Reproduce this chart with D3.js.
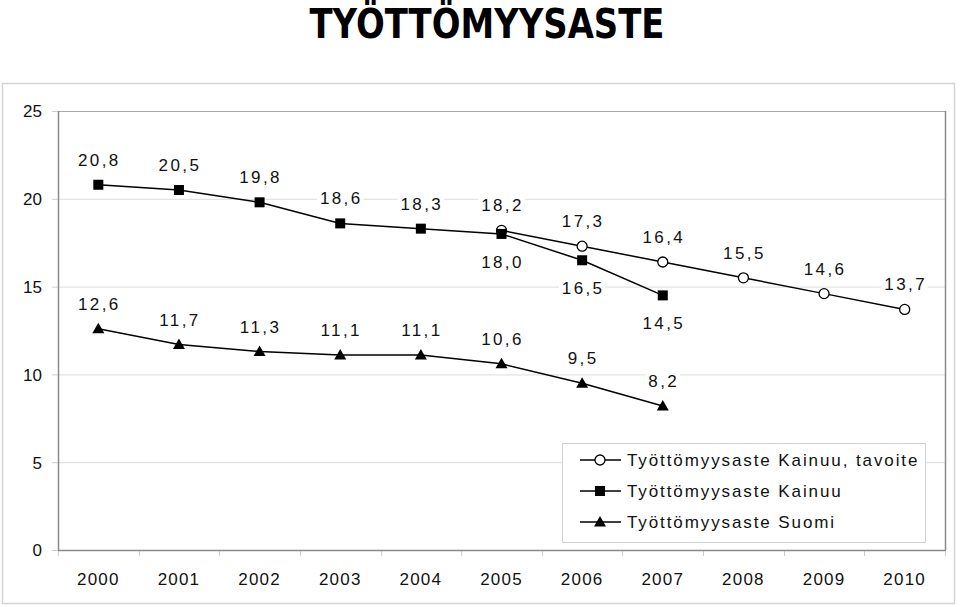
<!DOCTYPE html>
<html><head><meta charset="utf-8">
<script src="https://cdn.jsdelivr.net/npm/d3@7"></script>
<style>
html,body{margin:0;padding:0;background:#fff;}
svg{display:block;font-family:"Liberation Sans",Arial,sans-serif;}
</style></head>
<body>
<svg id="chart" width="960" height="607"></svg>
<script>
const years = ["2000","2001","2002","2003","2004","2005","2006","2007","2008","2009","2010"];
const tavoite = [null,null,null,null,null,18.2,17.3,16.4,15.5,14.6,13.7];
const kainuu = [20.8,20.5,19.8,18.6,18.3,18.0,16.5,14.5,null,null,null];
const suomi = [12.6,11.7,11.3,11.1,11.1,10.6,9.5,8.2,null,null,null];
const yTicks = [0,5,10,15,20,25];
const seriesNames = ["Työttömyysaste Kainuu, tavoite","Työttömyysaste Kainuu","Työttömyysaste Suomi"];
// label placement: above (-1) or below (+1)
const kainuuLabelPos = [-1,-1,-1,-1,-1,1,1,1,1,1,1];

const svg = d3.select("#chart");
const plot = {l:58, t:111, r:945, b:550};

// outer frame
svg.append("rect").attr("x",2.5).attr("y",83.5).attr("width",952).attr("height",520)
  .attr("fill","none").attr("stroke","#d4d4d4").attr("stroke-width",1.5);

// title
svg.append("text").attr("x",487).attr("y",38).attr("text-anchor","middle")
  .attr("font-family","'DejaVu Sans',sans-serif").attr("font-weight","bold").attr("font-size",40)
  .attr("textLength",355).attr("lengthAdjust","spacingAndGlyphs")
  .text("TYÖTTÖMYYSASTE");

const x = d3.scaleBand().domain(years).range([plot.l, plot.r]);
const y = d3.scaleLinear().domain([0,25]).range([plot.b, plot.t]);

// gridlines
svg.append("g").selectAll("line").data(yTicks.filter(d=>d>0 && d<25)).join("line")
  .attr("x1",plot.l).attr("x2",plot.r).attr("y1",d=>y(d)+0.5).attr("y2",d=>y(d)+0.5)
  .attr("stroke","#dcdcdc").attr("stroke-width",1);

// y axis
const yAxis = svg.append("g").attr("transform",`translate(${plot.l},0)`)
  .call(d3.axisLeft(y).tickValues(yTicks).tickSize(6).tickPadding(10).tickFormat(d3.format("d")));
yAxis.select(".domain").remove();
yAxis.selectAll("line").attr("stroke","#cfcfcf");
yAxis.selectAll("text").attr("font-size",17).attr("fill","#111").attr("dy","0.35em");

// x axis
const xAxis = svg.append("g").attr("transform",`translate(0,${plot.b})`)
  .call(d3.axisBottom(x).tickSize(0).tickPadding(23));
xAxis.select(".domain").remove();
xAxis.selectAll("text").attr("font-size",17).attr("fill","#111").attr("letter-spacing","1.2px");
// x tick marks at band boundaries
const bounds = years.map(d=>x(d)).concat([plot.r]);
svg.append("g").selectAll("line").data(bounds).join("line")
  .attr("x1",d=>Math.round(d)+0.5).attr("x2",d=>Math.round(d)+0.5)
  .attr("y1",plot.b).attr("y2",plot.b+6).attr("stroke","#cfcfcf");

// plot frame
svg.append("line").attr("x1",plot.l).attr("x2",plot.r).attr("y1",plot.t+0.5).attr("y2",plot.t+0.5).attr("stroke","#a8a8a8").attr("stroke-width",1.2);
svg.append("line").attr("x1",plot.l+0.5).attr("x2",plot.l+0.5).attr("y1",plot.t).attr("y2",plot.b).attr("stroke","#8a8a8a").attr("stroke-width",1.5);
svg.append("line").attr("x1",plot.r+0.5).attr("x2",plot.r+0.5).attr("y1",plot.t).attr("y2",plot.b).attr("stroke","#8a8a8a").attr("stroke-width",1.5);
svg.append("line").attr("x1",plot.l).attr("x2",plot.r+1).attr("y1",plot.b+0.5).attr("y2",plot.b+0.5).attr("stroke","#8a8a8a").attr("stroke-width",1.5);

const cx = d => x(d) + x.bandwidth()/2;
const fmt = v => d3.format(".1f")(v).replace(".",",");

function lineData(vals){ return years.map((yr,i)=>({yr, v:vals[i], i})).filter(d=>d.v!==null); }

const line = d3.line().x(d=>cx(d.yr)).y(d=>y(d.v));

const series = [
  {vals:tavoite, shape:"circle", pos: ()=>-1},
  {vals:kainuu, shape:"square", pos: i=>kainuuLabelPos[i]},
  {vals:suomi, shape:"triangle", pos: ()=>-1}
];

const gLines = svg.append("g");
const gMarks = svg.append("g");
const gLabels = svg.append("g");

function drawMarker(g, shape, px, py){
  if(shape==="circle"){
    g.append("circle").attr("cx",px).attr("cy",py).attr("r",5).attr("fill","#fff").attr("stroke","#000").attr("stroke-width",1.3);
  } else if(shape==="square"){
    g.append("rect").attr("x",px-5).attr("y",py-5).attr("width",10).attr("height",10).attr("fill","#000");
  } else {
    g.append("path").attr("d",`M${px},${py-6}L${px+6},${py+4.5}L${px-6},${py+4.5}Z`).attr("fill","#000");
  }
}

series.slice().reverse().forEach(s=>{
  const data = lineData(s.vals);
  gLines.append("path").datum(data).attr("d",line).attr("fill","none").attr("stroke","#000").attr("stroke-width",1.5);
});
series.forEach(s=>{
  const data = lineData(s.vals);
  data.forEach(d=>{
    drawMarker(gMarks, s.shape, cx(d.yr), y(d.v));
    const p = s.pos(d.i);
    const ty = p<0 ? y(d.v)-19 : y(d.v)+34;
    const t = gLabels.append("text").attr("x",cx(d.yr)+1).attr("y",ty).attr("text-anchor","middle")
      .attr("font-size",17).attr("letter-spacing","2.4px").attr("fill","#111").text(fmt(d.v));
    const bb = t.node().getBBox();
    gLabels.insert("rect","text").attr("x",bb.x-3).attr("y",bb.y).attr("width",bb.width+4).attr("height",bb.height).attr("fill","#fff");
  });
});

// legend
const lg = svg.append("g");
lg.append("rect").attr("x",562.5).attr("y",443.5).attr("width",363).attr("height",99)
  .attr("fill","#fff").attr("stroke","#d0d0d0").attr("stroke-width",1);
const shapes = ["circle","square","triangle"];
seriesNames.forEach((name,i)=>{
  const ly = 460 + i*31;
  lg.append("line").attr("x1",580).attr("x2",621).attr("y1",ly).attr("y2",ly).attr("stroke","#000").attr("stroke-width",1.5);
  drawMarker(lg, shapes[i], 600, ly);
  lg.append("text").attr("x",627).attr("y",ly+6).attr("font-size",17).attr("letter-spacing","1.9px").attr("fill","#111").text(name);
});
</script>
</body></html>
